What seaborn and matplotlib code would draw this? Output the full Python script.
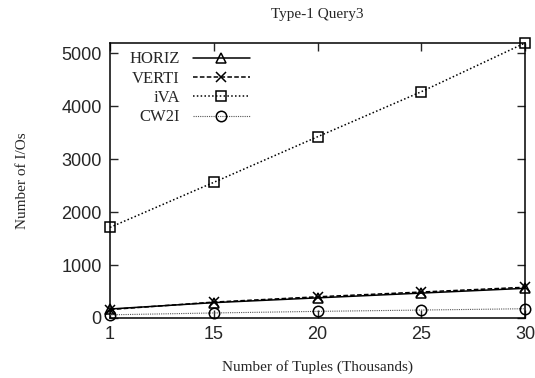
import numpy as np
import pandas as pd
import matplotlib
matplotlib.use("Agg")
import matplotlib.pyplot as plt
import seaborn as sns

# ---- data ----
tuples_labels = ["1", "15", "20", "25", "30"]
horiz = [170, 290, 380, 470, 560]
verti = [160, 300, 400, 490, 580]
iva = [1710, 2560, 3420, 4270, 5190]
cw2i = [60, 95, 125, 150, 175]
series_names = ["HORIZ", "VERTI", "iVA", "CW2I"]
y_ticks = [0, 1000, 2000, 3000, 4000, 5000]

pos = np.arange(len(tuples_labels))
df = pd.DataFrame({
    "pos": np.tile(pos, 4),
    "value": horiz + verti + iva + cw2i,
    "series": np.repeat(series_names, len(pos)),
})

sns.set_style("ticks")
plt.rcParams["font.family"] = ["Liberation Serif", "DejaVu Serif"]

fig = plt.figure(figsize=(5.35, 3.78), dpi=100)
ax = fig.add_axes([110 / 535, 1 - 318 / 378, (525 - 110) / 535, (318 - 43) / 378])

styles = {
    "HORIZ": dict(ls="-", marker="^", color="black", lw=1.1),
    "VERTI": dict(ls=(0, (3, 1.5)), marker="x", color="black", lw=1.1),
    "iVA": dict(ls=(0, (1, 1.5)), marker="s", color="black", lw=1.1),
    "CW2I": dict(ls=(0, (1, 1)), marker="o", color="#555555", lw=0.8),
}
for name in series_names:
    st = styles[name]
    sub = df[df["series"] == name]
    sns.lineplot(data=sub, x="pos", y="value", ax=ax, label=name,
                 color=st["color"], linestyle=st["ls"], linewidth=st["lw"],
                 marker=st["marker"], markersize=7.5 if st["marker"] != "x" else 7,
                 markerfacecolor="none", markeredgecolor="black",
                 markeredgewidth=1.1, clip_on=False, zorder=3)

ax.set_xlim(pos[0], pos[-1])
ax.set_ylim(0, 5190)
ax.set_xticks(pos)
ax.set_xticklabels(tuples_labels, family="Liberation Sans", fontsize=13)
ax.set_yticks(y_ticks)
ax.set_yticklabels([str(v) for v in y_ticks], family="Liberation Sans", fontsize=13)
ax.tick_params(direction="in", length=6, width=1, top=True, right=True, pad=6)
for s in ax.spines.values():
    s.set_linewidth(1.1)
    s.set_color("black")

ax.set_xlabel("Number of Tuples (Thousands)", fontsize=11, labelpad=12)
ax.set_ylabel("Number of I/Os", fontsize=11, labelpad=23)
ax.set_title("Type-1 Query3", fontsize=11, pad=18)

leg = ax.legend(loc="upper left", frameon=False, markerfirst=False,
                fontsize=12, handlelength=3.4, labelspacing=0.2,
                borderaxespad=0.1, bbox_to_anchor=(0.026, 1.0))
for t in leg.get_texts():
    t.set_ha("right")

fig.savefig("out.png", dpi=100)
